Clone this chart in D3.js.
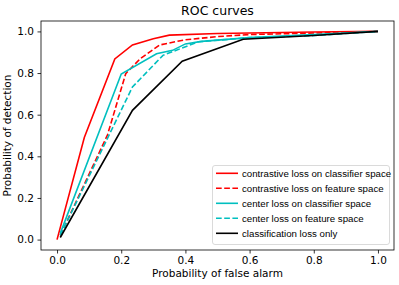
<!DOCTYPE html>
<html>
<head>
<meta charset="utf-8">
<script src="https://cdn.jsdelivr.net/npm/d3@7"></script>
<style>
  body { margin: 0; background: #fff; }
  text { font-family: "DejaVu Sans", sans-serif; fill: #000; }
  .legend text { font-family: "Liberation Sans", Arial, sans-serif; }
</style>
</head>
<body>
<div id="chart"></div>
<script>
// Figure size and plot area
let width = 399, height = 285;
let margin = {top: 21, right: 5, bottom: 35, left: 41};

// ROC curve points
let redSolidFpr = [0, 0.085, 0.18, 0.235, 0.3, 0.35, 0.5, 0.8, 1];
let redSolidTpr = [0, 0.49, 0.868, 0.935, 0.965, 0.982, 0.99, 0.997, 1];

let redDashFpr = [0.01, 0.157, 0.214, 0.26, 0.32, 0.4, 0.5, 0.6, 0.8, 1];
let redDashTpr = [0.02, 0.502, 0.797, 0.87, 0.935, 0.96, 0.975, 0.985, 0.992, 1];

let cyanSolidFpr = [0.01, 0.2, 0.31, 0.36, 0.4, 0.45, 0.6, 0.8, 1];
let cyanSolidTpr = [0.03, 0.795, 0.893, 0.909, 0.94, 0.952, 0.97, 0.985, 1];

let cyanDashFpr = [0.01, 0.235, 0.33, 0.44, 0.6, 0.8, 1];
let cyanDashTpr = [0.02, 0.733, 0.885, 0.95, 0.97, 0.98, 1];

let blackFpr = [0.01, 0.235, 0.39, 0.58, 0.8, 1];
let blackTpr = [0.01, 0.621, 0.857, 0.962, 0.98, 1];

let seriesNames = ["contrastive loss on classifier space", "contrastive loss on feature space",
                   "center loss on classifier space", "center loss on feature space",
                   "classification loss only"];
let seriesColors = ["#ff0000", "#ff0000", "#00bfbf", "#00bfbf", "#000000"];
let seriesDashed = [false, true, false, true, false];
let seriesFpr = [redSolidFpr, redDashFpr, cyanSolidFpr, cyanDashFpr, blackFpr];
let seriesTpr = [redSolidTpr, redDashTpr, cyanSolidTpr, cyanDashTpr, blackTpr];

let ticks = [0, 0.2, 0.4, 0.6, 0.8, 1.0];

let series = seriesNames.map((name, i) => ({
    name: name,
    color: seriesColors[i],
    dashed: seriesDashed[i],
    points: seriesFpr[i].map((f, j) => [f, seriesTpr[i][j]])
}));

let svg = d3.select("#chart").append("svg")
    .attr("width", width)
    .attr("height", height);

let x = d3.scaleLinear().domain([-0.05, 1.05]).range([margin.left, width - margin.right]);
let y = d3.scaleLinear().domain([-0.05, 1.05]).range([height - margin.bottom, margin.top]);

// Axes
let xAxis = svg.append("g")
    .attr("transform", "translate(0," + (height - margin.bottom) + ")")
    .call(d3.axisBottom(x).tickValues(ticks).tickFormat(d3.format(".1f")).tickSize(3.5).tickPadding(3.5));
let yAxis = svg.append("g")
    .attr("transform", "translate(" + margin.left + ",0)")
    .call(d3.axisLeft(y).tickValues(ticks).tickFormat(d3.format(".1f")).tickSize(3.5).tickPadding(3.5));

[xAxis, yAxis].forEach(function(a) {
    a.select(".domain").remove();
    a.selectAll("line").attr("stroke", "#000").attr("stroke-width", 0.8);
    a.selectAll("text").attr("font-family", "DejaVu Sans").attr("font-size", 10.5).attr("fill", "#000");
});

// Lines
let line = d3.line().x(d => x(d[0])).y(d => y(d[1]));
svg.append("g").selectAll("path")
    .data(series)
    .enter().append("path")
    .attr("d", d => line(d.points))
    .attr("fill", "none")
    .attr("stroke", d => d.color)
    .attr("stroke-width", 1.6)
    .attr("stroke-dasharray", d => d.dashed ? "5.7,2.5" : null);

// Frame
svg.append("rect")
    .attr("x", margin.left)
    .attr("y", margin.top)
    .attr("width", width - margin.left - margin.right)
    .attr("height", height - margin.top - margin.bottom)
    .attr("fill", "none")
    .attr("stroke", "#000")
    .attr("stroke-width", 0.8);

// Titles
svg.append("text")
    .attr("x", (margin.left + width - margin.right) / 2)
    .attr("y", 15)
    .attr("text-anchor", "middle")
    .attr("font-size", 12.5)
    .text("ROC curves");

svg.append("text")
    .attr("x", (margin.left + width - margin.right) / 2)
    .attr("y", 277)
    .attr("text-anchor", "middle")
    .attr("font-size", 10.5)
    .text("Probability of false alarm");

svg.append("text")
    .attr("transform", "translate(11," + (margin.top + height - margin.bottom) / 2 + ") rotate(-90)")
    .attr("text-anchor", "middle")
    .attr("font-size", 10.5)
    .text("Probability of detection");

// Legend
let legend = svg.append("g").attr("class", "legend");
legend.append("rect")
    .attr("x", 212.5)
    .attr("y", 165.5)
    .attr("width", 177)
    .attr("height", 79)
    .attr("rx", 2.5)
    .attr("fill", "#fff")
    .attr("fill-opacity", 0.8)
    .attr("stroke", "#d0d0d0")
    .attr("stroke-width", 0.8);

let items = legend.selectAll(".item")
    .data(series)
    .enter().append("g")
    .attr("class", "item")
    .attr("transform", (d, i) => "translate(0," + (173.3 + i * 15) + ")");

items.append("line")
    .attr("x1", 216)
    .attr("x2", 238)
    .attr("stroke", d => d.color)
    .attr("stroke-width", 1.6)
    .attr("stroke-dasharray", d => d.dashed ? "5.7,2.5" : null);

items.append("text")
    .attr("x", 242)
    .attr("dy", "0.35em")
    .attr("font-size", 9.7)
    .text(d => d.name);
</script>
</body>
</html>
